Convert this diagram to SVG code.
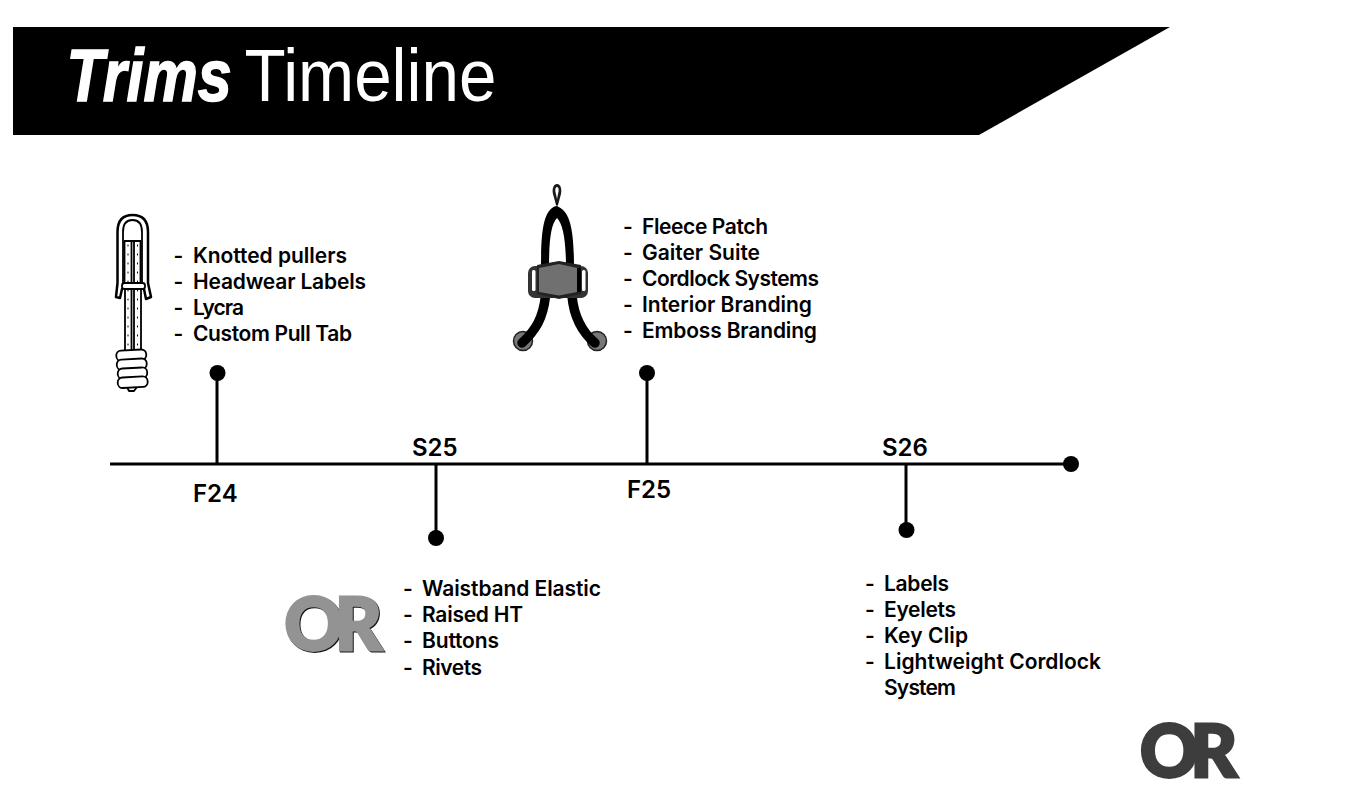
<svg xmlns="http://www.w3.org/2000/svg" width="1360" height="803" viewBox="0 0 1360 803">
<style>
text{font-family:"Inter","Liberation Sans",sans-serif;fill:#000}
.i{font-size:21px;font-weight:600}
.l{font-size:24px;font-weight:600}
.t{font-family:"Liberation Sans",sans-serif;font-size:74px;fill:#fff}
.or{font-family:"Lato","Liberation Sans",sans-serif;font-weight:900;font-size:72px;stroke-width:3;stroke-linejoin:miter;letter-spacing:-8px}
.k{fill:none;stroke:#000;stroke-linecap:round;stroke-linejoin:round}
.c{fill:#fff;stroke:#000;stroke-width:1.800}
.ax{stroke:#000;stroke-width:3;fill:none}
</style>
<rect width="1360" height="803" fill="#fff"/>
<g id="banner">
<polygon points="13,27 1170,27 979,135 13,135" fill="#000"/>
<text class="t" transform="translate(66.500 101) scale(.825 1)" font-weight="700" font-style="italic" stroke="#fff" stroke-width="1.500">Trims</text>
<text class="t" transform="translate(244.500 101) scale(.91 1)">Timeline</text>
</g>
<g id="connectors">
<line class="ax" x1="110" y1="464" x2="1071" y2="464"/>
<line class="ax" x1="217" y1="373" x2="217" y2="464"/>
<line class="ax" x1="436" y1="464" x2="436" y2="538"/>
<line class="ax" x1="647" y1="373" x2="647" y2="464"/>
<line class="ax" x1="906" y1="464" x2="906" y2="530"/>
</g>
<g id="dot-f24"><circle cx="217.500" cy="373" r="8"/></g>
<g id="dot-s25"><circle cx="436" cy="538" r="8"/></g>
<g id="dot-f25"><circle cx="647" cy="373" r="8"/></g>
<g id="dot-s26"><circle cx="906.500" cy="530" r="8"/></g>
<g id="dot-end"><circle cx="1071" cy="464" r="8"/></g>
<g id="label-f24"><text class="l" x="193" y="502">F24</text></g>
<g id="label-s25"><text class="l" x="412" y="456">S25</text></g>
<g id="label-f25"><text class="l" x="627" y="498">F25</text></g>
<g id="label-s26"><text class="l" x="882" y="456">S26</text></g>
<g id="list-f24">
<text class="i" x="173.500" y="263">-</text><text class="i" x="193" y="263" textLength="154">Knotted pullers</text>
<text class="i" x="173.500" y="289">-</text><text class="i" x="193" y="289" textLength="173">Headwear Labels</text>
<text class="i" x="173.500" y="315">-</text><text class="i" x="193" y="315" textLength="51">Lycra</text>
<text class="i" x="173.500" y="341">-</text><text class="i" x="193" y="341" textLength="159">Custom Pull Tab</text>
</g>
<g id="list-f25">
<text class="i" x="623" y="234">-</text><text class="i" x="642" y="234" textLength="126">Fleece Patch</text>
<text class="i" x="623" y="260">-</text><text class="i" x="642" y="260" textLength="118">Gaiter Suite</text>
<text class="i" x="623" y="286">-</text><text class="i" x="642" y="286" textLength="177">Cordlock Systems</text>
<text class="i" x="623" y="312">-</text><text class="i" x="642" y="312" textLength="170">Interior Branding</text>
<text class="i" x="623" y="338">-</text><text class="i" x="642" y="338" textLength="175">Emboss Branding</text>
</g>
<g id="list-s25">
<text class="i" x="403" y="596">-</text><text class="i" x="422" y="596" textLength="179">Waistband Elastic</text>
<text class="i" x="403" y="622">-</text><text class="i" x="422" y="622" textLength="101">Raised HT</text>
<text class="i" x="403" y="648">-</text><text class="i" x="422" y="648" textLength="77">Buttons</text>
<text class="i" x="403" y="675">-</text><text class="i" x="422" y="675" textLength="60">Rivets</text>
</g>
<g id="list-s26">
<text class="i" x="865" y="591">-</text><text class="i" x="884" y="591" textLength="65">Labels</text>
<text class="i" x="865" y="617">-</text><text class="i" x="884" y="617" textLength="72">Eyelets</text>
<text class="i" x="865" y="643">-</text><text class="i" x="884" y="643" textLength="84">Key Clip</text>
<text class="i" x="865" y="669">-</text><text class="i" x="884" y="669" textLength="217">Lightweight Cordlock</text>
<text class="i" x="884" y="695" textLength="72">System</text>
</g>
<g id="puller">
<path class="k" stroke-width="2.500" d="M116 297 L117.500 283 V232 Q117.500 215 132.500 215 Q148 215 148 232 V283 L151 297 L146 299 L144 289 M116 297 L120 298 L122 289"/>
<path class="k" stroke-width="1.800" d="M123 283 V232 Q123 220 132.500 220 Q142 220 142 232 V283"/>
<path class="k" stroke-width="1.800" d="M124.500 283 V241 H140.500 V283 M131.500 241 V283 M134 241 V283"/>
<rect class="c" x="122" y="283" width="23" height="6" rx="2.500"/>
<path class="k" stroke-width="1.800" d="M125 289 V350 M131.500 289 V350 M134 289 V350 M141 289 V350"/>
<path class="k" stroke-width="1" stroke-dasharray="1 8" d="M128 245 V349 M137.500 245 V349"/>
<path class="k" fill="#fff" stroke-width="1.800" d="M127 387 L129 391 H134 L137 387"/>
<g transform="rotate(-3 132 369)">
<rect class="c" x="117" y="350" width="30" height="10.500" rx="5"/>
<rect class="c" x="117" y="359" width="30" height="10.500" rx="5"/>
<rect class="c" x="117.500" y="368" width="29.500" height="10.500" rx="5"/>
<rect class="c" x="117" y="377" width="30" height="10.500" rx="5"/>
</g>
</g>
<g id="cordlock">
<path d="M557 184 C561 184 562 190 561 194 L558 205 H556 L553 194 C552 190 553 184 557 184 Z M557 187 C555 187 555 191 556 194 L557 199 L558 194 C559 191 559 187 557 187 Z" fill-rule="evenodd" fill="#1a1a1a"/>
<path d="M541 268 C541 232 543 210 556 206 C571 210 574 232 574 268 H566 C566 240 563 224 557 218 C551 224 549 240 549 268 Z" fill="#000"/>
<path class="k" stroke="#777" stroke-width="1" d="M557 203 V217"/>
<circle cx="523" cy="341" r="9.500" fill="#777" stroke="#222" stroke-width="1.500"/>
<circle cx="597" cy="341" r="9.500" fill="#777" stroke="#222" stroke-width="1.500"/>
<path class="k" stroke-width="9.500" d="M545.500 296 C543 318 536 330 522 343 M572 296 C574 318 582 332 595 343"/>
<rect x="528" y="266" width="60" height="32" rx="7" fill="#333"/>
<rect x="532" y="270" width="3.500" height="21" rx="1.500" fill="#fff"/>
<rect x="582" y="270" width="3.500" height="21" rx="1.500" fill="#fff"/>
<path d="M537 265 L559 261 L581 265 V294 L559 299 L537 294 Z" fill="#222"/>
<polygon points="539,268 559,264 577,268 577,292 559,295.500 539,292" fill="#707070"/>
<rect x="577" y="268" width="4" height="24" fill="#000"/>
</g>
<g id="logo-gray">
<text class="or" x="285.500" y="650.500" style="fill:#111;stroke:#111">OR</text>
<text class="or" x="284.500" y="649.500" style="fill:#939393;stroke:#939393">OR</text>
</g>
<g id="logo-dark">
<text class="or" x="1140" y="776.500" style="fill:#3d3d3d;stroke:#3d3d3d">OR</text>
</g>
</svg>
